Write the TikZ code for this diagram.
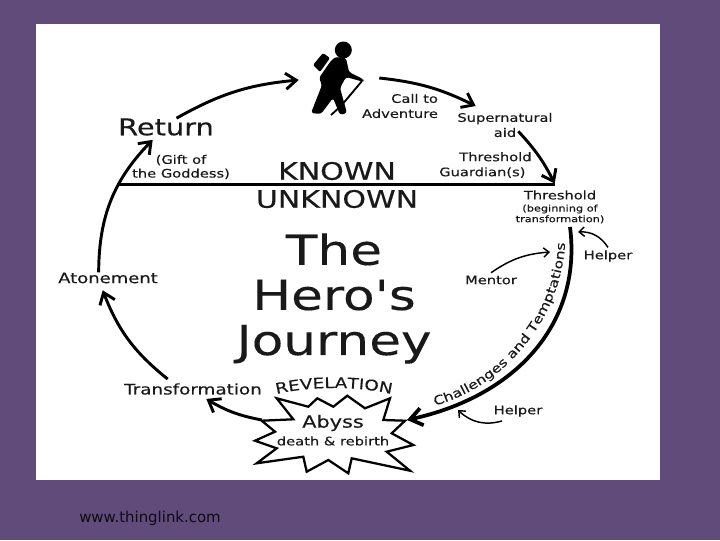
\documentclass[tikz,border=0pt]{standalone}
\usepackage{fontspec}
\setmainfont[FakeStretch=1.25,FakeBold=0.3]{DejaVu Sans}
\newfontfamily\titlefont[FakeStretch=1.25,FakeBold=0.3]{DejaVu Sans}
\newfontfamily\webfont{DejaVu Sans}
\usetikzlibrary{
    arrows.meta,
    decorations.text
}
\definecolor{slidebg}{RGB}{96,75,122}
\definecolor{inkcol}{RGB}{25,25,25}
\newcommand{\fs}[1]{\fontsize{#1}{#1}\selectfont}
\tikzset{
    journey/.style={line width=2.2pt, draw=black, -{Straight Barb[length=8pt,width=12pt]}},
    aside/.style={line width=1.1pt, draw=black, -{Straight Barb[length=4pt,width=7pt]}},
    lbl/.style={inner sep=0pt, text=inkcol, align=center, font=\fs{8.8}}
}

\begin{document}
\begin{tikzpicture}[x=0.75pt,y=-0.75pt]

\useasboundingbox (0,0) rectangle (720,540);
\fill[slidebg] (0,0) rectangle (720,540);
\fill[white] (36,24) rectangle (660,480);

% Hiker
\fill (343.3,50) circle (8.5);
\fill[rounded corners=1pt] (313,65) -- (323,53) -- (330,58) -- (320,72) -- cycle;
\fill[rounded corners=2pt] (335,57) -- (346,58) -- (349,72) -- (363,79) -- (364,82) -- (346,77)
    -- (340,88) -- (347,113) -- (340,115) -- (333,98) -- (321,114) -- (311,113) -- (322,85)
    -- (319,78) -- (330,62) -- cycle;
\draw[line width=1.4pt] (362,81) -- (341,106) -- (331,115);
\node (hiker) [minimum width=60pt, minimum height=60pt, inner sep=0pt] at (339,80) {};

% Labels
\node[lbl, align=right] (call) at (400,106) {Call to\\[2.5pt]Adventure};
\node[lbl] (aid) at (505,125) {Supernatural\\[2.5pt]aid};
\node[lbl, align=left, anchor=west] (guard) at (439,165) {\hspace*{15pt}Threshold\\[2.5pt]Guardian(s)};
\node[lbl] (known) [font=\fs{18}] at (337,171) {KNOWN};
\node[lbl] (unknown) [font=\fs{18}] at (337,199) {UNKNOWN};
\node[lbl] (gate) at (560,195) {Threshold};
\node[lbl] (begin) [font=\fs{6.8}] at (560,214) {(beginning of\\[1.2pt]transformation)};
\node[lbl] (helpera) at (608,256) {Helper};
\node[lbl] (mentor) at (491,280) {Mentor};
\node[lbl] (helperb) at (518,411) {Helper};
\node[lbl] (return) [font=\fs{17.3}] at (166,127) {Return};
\node[lbl] (gift) at (181,167) {(Gift of\\[1.5pt]the Goddess)};
\node[lbl] (atone) [font=\fs{10.8}] at (108,278) {Atonement};
\node[lbl] (trans) [font=\fs{11}] at (193,389) {Transformation};

% Title
\node[lbl] (title) [font=\titlefont\fs{31}, align=center] at (334,298.5) {The\\[2.8pt]Hero's\\[2.8pt]Journey};

% Abyss
\draw[line width=1.7pt, fill=white, line join=miter] (276.7,398.3) -- (293.3,419.3) -- (261.7,420.7) -- (275,431.7)
    -- (255,440.7) -- (276.7,448.3) -- (256.7,463.3) -- (303.3,456.7) -- (306.7,471.7)
    -- (328.3,460) -- (348.3,473.3) -- (351.7,458.3) -- (410,470.7) -- (386.7,451.7)
    -- (413.3,445) -- (391.7,433.3) -- (405,420.7) -- (383.3,420) -- (390,398.3)
    -- (365,408.3) -- (347.3,395.7) -- (333.3,406.7) -- (317.3,398.3) -- (308.3,406.7) -- cycle;
\node[lbl] (abyss) [font=\fs{12.5}] at (333,423) {Abyss};
\node[lbl] (death) [font=\fs{8.8}] at (333,441) {death \& rebirth};
\coordinate (abyssl) at (262,420);
\coordinate (abyssr) at (407,420);

% Curved lettering
\path[decorate, decoration={text along path, text align=center,
    text={|\fs{11}\color{inkcol}|REVELATION}}] (277,394) .. controls (310,386) and (358,386) .. (391,394);
\path[decorate, decoration={text along path, text align=center,
    text={|\fs{9.3}\color{inkcol}|Challenges and Temptations}}] (437,405) .. controls (505,385) and (560,320) .. (565,245);

% Main cycle
\draw[journey] (return.40) to[bend left=12] (hiker.west);
\draw[journey] ([yshift=1.5pt]hiker.east) to[bend left=10] ([xshift=-22pt,yshift=5pt]aid.north);
\draw[journey] ([xshift=10pt,yshift=4.5pt]aid.south) to[bend left=8] ([xshift=-4pt,yshift=5pt]gate.north);
\draw[journey] ([xshift=-7pt]atone.north) to[bend left=22] ([xshift=-10pt,yshift=-3pt]return.south);
\draw[journey] ([xshift=-19pt,yshift=3pt]trans.north) to[bend left=15] ([xshift=-4pt,yshift=-5pt]atone.south);
\draw[journey] (abyssl) to[bend left=10] ([xshift=10pt,yshift=-3pt]trans.south);
\coordinate (tempt) at (570,227);
\draw[journey, line width=2.8pt, -{Straight Barb[length=9pt,width=13pt]}] (tempt) .. controls (582,320) and (520,395) .. (abyssr);

% Known and unknown line
\coordinate (linel) at (117,184.5);
\coordinate (liner) at (555,184.5);
\draw[line width=2.4pt] (linel) -- (liner);

% Helpers
\coordinate (helpertip) at (578,232);
\coordinate (mentortip) at (550,252);
\coordinate (helperbtip) at (458,410);
\draw[aside] ([yshift=2pt]helpera.north) to[bend right=30] (helpertip);
\draw[aside] ([yshift=2pt]mentor.north) to[bend left=15] (mentortip);
\draw[aside] ([xshift=-12pt,yshift=-3pt]helperb.south) to[bend left=30] (helperbtip);

\node[lbl, text=black!85!slidebg] (web) [font=\webfont\fs{11.2}] at (150,518) {www.thinglink.com};

\end{tikzpicture}
\end{document}
